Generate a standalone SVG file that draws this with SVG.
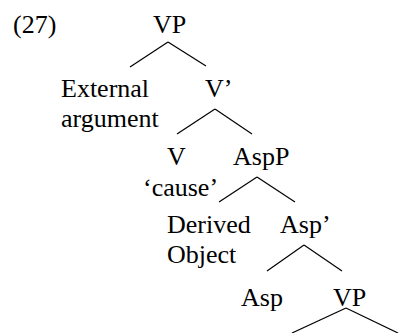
<svg xmlns="http://www.w3.org/2000/svg" width="399" height="333" viewBox="0 0 399 333">
<style>
text{font-family:"Liberation Serif","Times New Roman",serif;font-size:26px;fill:#000}
line{stroke:#000;stroke-width:1.2}
</style>
<rect width="399" height="333" fill="#fff"/>
<text x="13" y="33">(27)</text>
<g id="n-vp"><text x="153" y="33">VP</text></g>
<g id="n-ext"><text x="61" y="97">External</text><text x="61" y="127">argument</text></g>
<g id="n-vbar"><text x="205" y="97">V’</text></g>
<g id="n-v"><text x="167" y="165">V</text><text x="143" y="196">‘cause’</text></g>
<g id="n-aspp"><text x="233" y="165">AspP</text></g>
<g id="n-do"><text x="167" y="233">Derived</text><text x="167" y="263">Object</text></g>
<g id="n-aspbar"><text x="280" y="233">Asp’</text></g>
<g id="n-asp"><text x="241" y="306">Asp</text></g>
<g id="n-vp2"><text x="333" y="306">VP</text></g>
<g id="connectors">
<line x1="168" y1="42" x2="130" y2="67"/>
<line x1="168" y1="42" x2="206" y2="66"/>
<line x1="215" y1="109" x2="177" y2="134"/>
<line x1="215" y1="109" x2="252" y2="134"/>
<line x1="257" y1="177" x2="219" y2="202"/>
<line x1="257" y1="177" x2="295" y2="202"/>
<line x1="304" y1="245" x2="267" y2="271"/>
<line x1="304" y1="245" x2="342" y2="271"/>
<line x1="346" y1="308" x2="292" y2="333"/>
<line x1="346" y1="308" x2="398" y2="333"/>
</g>
</svg>
